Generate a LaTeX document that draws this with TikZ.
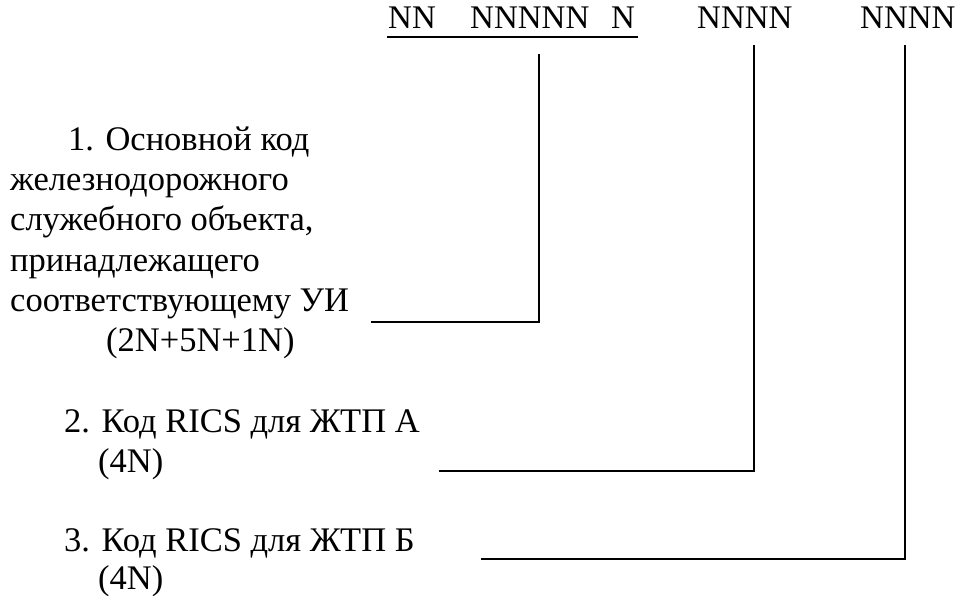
\documentclass[tikz,border=0pt]{standalone}
\usepackage{fontspec}
\setmainfont{Liberation Serif}
\begin{document}
\begin{tikzpicture}[x=1pt,y=-1pt,
  lbl/.style={anchor=base west,inner sep=0pt,font=\fontsize{34.5}{40}\selectfont},
  code/.style={anchor=base west,inner sep=0pt,font=\fontsize{33}{38}\selectfont},
  conn/.style={line width=1.7pt,line cap=rect},
  uline/.style={line width=1.7pt}]
\useasboundingbox (0,0) rectangle (961,596);
% code groups
\node[code] (nn)  at (388,29) {NN};
\node[code] (nnn) at (470,29) {NNNNN};
\node[code] (n)   at (611,29) {N};
\node[code] (ra)  at (697,29) {NNNN};
\node[code] (rb)  at (860,29) {NNNN};
\coordinate (ul1) at (387,37);
\coordinate (ul2) at (638,37);
\draw[uline] (ul1) -- (ul2);
% block 1
\node[lbl] (l1a) at (68,151) {1. Основной код};
\node[lbl] (l1b) at (10,191) {железнодорожного};
\node[lbl] (l1c) at (10,231) {служебного объекта,};
\node[lbl] (l1d) at (10,271) {принадлежащего};
\node[lbl] (l1e) at (10,311) {соответствующему УИ};
\node[lbl] (l1f) at (106,351) {(2N+5N+1N)};
% block 2
\node[lbl] (l2a) at (64,432) {2. Код RICS для ЖТП А};
\node[lbl] (l2b) at (98,472) {(4N)};
% block 3
\node[lbl] (l3a) at (64,551) {3. Код RICS для ЖТП Б};
\node[lbl] (l3b) at (98,589) {(4N)};
% connectors
\coordinate (a1) at (372,322);
\coordinate (b1) at (539,55);
\coordinate (a2) at (440,471);
\coordinate (b2) at (754,46);
\coordinate (a3) at (482,559);
\coordinate (b3) at (905,46);
\draw[conn] (a1) -| (b1);
\draw[conn] (a2) -| (b2);
\draw[conn] (a3) -| (b3);
\end{tikzpicture}
\end{document}
